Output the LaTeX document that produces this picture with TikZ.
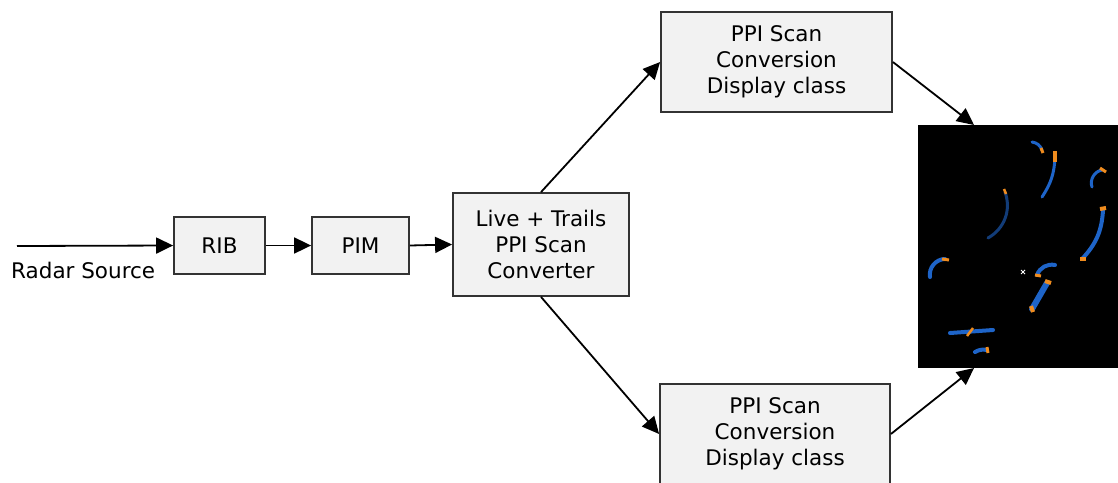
\documentclass[tikz,border=0pt]{standalone}
\usepackage{fontspec}
\setmainfont{DejaVu Sans}
\usetikzlibrary{arrows.meta}
\definecolor{boxfill}{HTML}{F2F2F2}
\definecolor{boxline}{HTML}{333333}
\definecolor{trailblue}{RGB}{30,100,200}
\definecolor{trailorange}{RGB}{240,140,30}
\tikzset{
  blk/.style={draw=boxline, line width=1.8pt, fill=boxfill, inner sep=0pt, align=center,
    font=\fontsize{21.5}{26}\selectfont},
  conn/.style={line width=1.8pt, -{Triangle[length=17pt,width=16pt]}},
  trail/.style={trailblue, line width=4pt, line cap=round},
  tip/.style={trailorange, line width=4pt},
}
\begin{document}
\begin{tikzpicture}[x=1pt,y=-1pt]
\useasboundingbox (0,0) rectangle (1118,482);
\node[blk, minimum width=91pt, minimum height=57pt] (rib) at (219.5,245.5) {RIB};
\node[blk, minimum width=97pt, minimum height=57pt] (pim) at (360.5,245.5) {PIM};
\node[blk, minimum width=176pt, minimum height=103pt] (live) at (541,244.5) {Live + Trails\\PPI Scan\\Converter};
\node[blk, minimum width=231pt, minimum height=100pt] (ppitop) at (776.5,62) {PPI Scan\\Conversion\\Display class};
\node[blk, minimum width=230pt, minimum height=100pt] (ppibot) at (775,434) {PPI Scan\\Conversion\\Display class};
\node[fill=black, inner sep=0pt, minimum width=200pt, minimum height=243pt] (img) at (1018,246.5) {};
\node[anchor=base west, inner sep=0pt, font=\fontsize{21.5}{26}\selectfont] (srclabel) at (11,278) {Radar Source};
\coordinate (src) at (17,246);
\coordinate (imgtop) at (974,125);
\coordinate (imgbot) at (974,368);
% radar picture contents
\begin{scope}
\clip (img.north west) rectangle (img.south east);
\draw[trail, line width=3pt] (1032,142) to[bend left=30] (1042,150);
\draw[tip, line width=3pt] (1041,148) -- (1043,153);
\draw[trail, line width=3pt] (1055,158) to[bend left=15] (1042,197);
\draw[tip] (1055,151) -- (1055,162);
\draw[trail, line width=3pt] (1102,170) to[bend right=50] (1092,187);
\draw[tip, line width=3pt] (1100,168) -- (1106,172);
\draw[trail, line width=3pt, trailblue!60!black] (1005,192) to[bend left=40] (988,238);
\draw[tip, line width=2.5pt] (1004,189) -- (1006,194);
\draw[trail] (1103,210) to[bend left=20] (1082,259);
\draw[tip] (1100,209) -- (1106,208);
\draw[tip] (1080,259) -- (1086,259);
\draw[trail] (945,259) to[bend right=50] (930,277);
\draw[tip, line width=3pt] (942,259) -- (949,260);
\draw[white, line width=0.8pt] (1021,270) -- (1025,274) (1021,274) -- (1025,270);
\draw[trail] (1037,275) to[bend left=40] (1055,265);
\draw[tip, line width=3pt] (1035,275) -- (1041,276);
\draw[trail, line width=6pt] (1047,283) -- (1032,309);
\draw[tip] (1045,281) -- (1051,283);
\draw[tip] (1031,306) -- (1033,312);
\draw[trail, line width=4pt] (950,333) -- (993,330);
\draw[tip, line width=2.5pt] (967,336) -- (973,328);
\draw[trail, line width=4pt] (975,352) to[bend left=20] (987,350);
\draw[tip, line width=3pt] (987,347) -- (988,353);
\end{scope}
\draw[conn] (src) -- (rib.west);
\draw[conn] (rib.east) -- (pim.west);
\draw[conn] (pim.east) -- (live.west);
\draw[conn] (live.north) -- (ppitop.west);
\draw[conn] (live.south) -- (ppibot.west);
\draw[conn] (ppitop.east) -- (imgtop);
\draw[conn] (ppibot.east) -- (imgbot);
\end{tikzpicture}
\end{document}
